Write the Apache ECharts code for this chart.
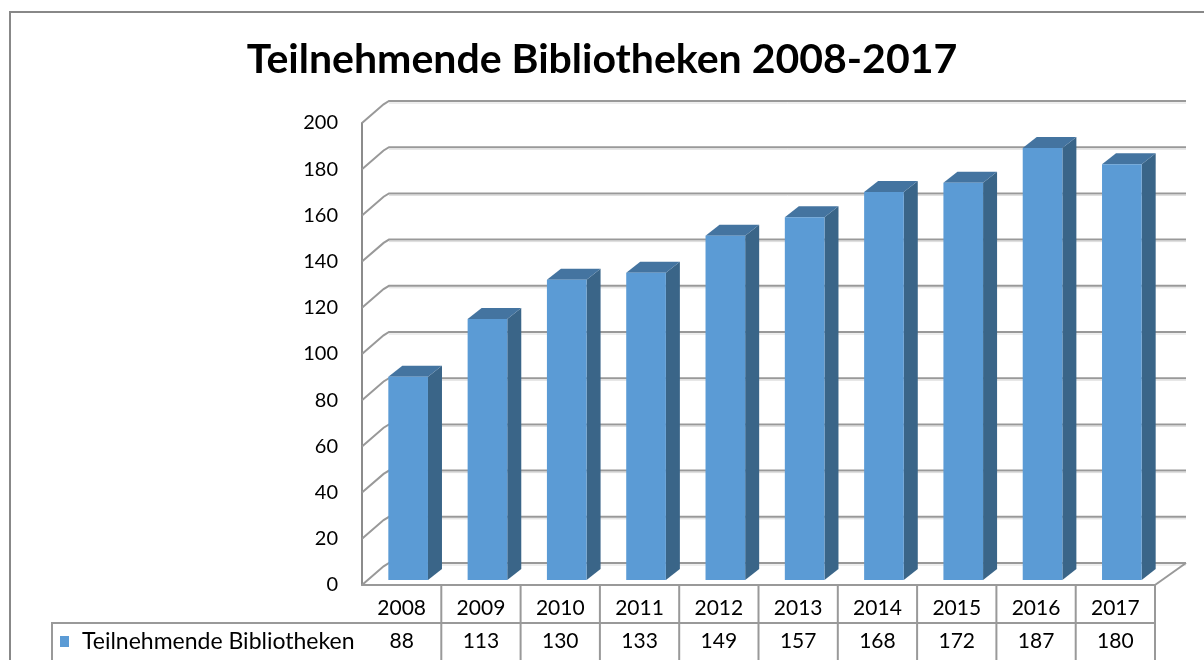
<!DOCTYPE html>
<html>
<head>
<meta charset="utf-8">
<script src="https://cdn.jsdelivr.net/npm/echarts@6/dist/echarts.min.js"></script>
<style>
html,body{margin:0;padding:0;background:#fff;}
#chart{width:1204px;height:660px;}
</style>
</head>
<body>
<div id="chart"></div>
<script>
const titleText = 'Teilnehmende Bibliotheken 2008-2017';
const seriesName = 'Teilnehmende Bibliotheken';
const categories = ['2008','2009','2010','2011','2012','2013','2014','2015','2016','2017'];
const values = [88, 113, 130, 133, 149, 157, 168, 172, 187, 180];
const yTicks = [0, 20, 40, 60, 80, 100, 120, 140, 160, 180, 200];

const FONT = 'Lato, "Noto Sans", sans-serif';
const GRID_COLOR = '#999999';
const FRONT = '#5B9BD5', SIDE = '#3A6588', TOP = '#4474A0';
// 3D offsets
const DEPTH = [27, -22];      // full depth of walls
const BAR_SHIFT = [6.5, -5];  // bar front face offset from front plane
const BAR_DEPTH = [14, -11];  // bar depth

const chart = echarts.init(document.getElementById('chart'), null, {renderer: 'canvas'});

const option = {
  backgroundColor: '#fff',
  animation: false,
  title: {
    text: titleText,
    left: 'center',
    top: 34,
    textStyle: {fontFamily: FONT, fontSize: 41, fontWeight: 'bold', color: '#000'}
  },
  legend: {
    data: [seriesName],
    left: 60,
    top: 630,
    padding: 0,
    icon: 'rect',
    itemWidth: 9,
    itemHeight: 11,
    textStyle: {fontFamily: FONT, fontSize: 23, color: '#000', padding: [0, 0, 0, 8]}
  },
  grid: {left: 362, top: 123, width: 793, height: 462},
  xAxis: [{
    type: 'category',
    data: categories,
    position: 'bottom',
    axisLine: {show: true, lineStyle: {color: GRID_COLOR, width: 2}},
    axisTick: {show: false},
    splitLine: {show: false},
    axisLabel: {fontFamily: FONT, fontSize: 21, color: '#000', margin: 13, interval: 0}
  }, {
    type: 'category',
    data: categories,
    position: 'bottom',
    axisLine: {show: false},
    axisTick: {show: false},
    splitLine: {show: false},
    axisLabel: {
      fontFamily: FONT, fontSize: 21, color: '#000', margin: 46, interval: 0,
      formatter: function (val, idx) { return String(values[idx]); }
    }
  }],
  yAxis: {
    type: 'value',
    min: 0,
    max: 200,
    interval: 20,
    axisLine: {show: true, lineStyle: {color: '#8c8c8c', width: 2}},
    axisTick: {show: false},
    splitLine: {show: false},
    axisLabel: {fontFamily: FONT, fontSize: 20, color: '#000', margin: 24}
  },
  graphic: [{
    type: 'rect',
    shape: {x: 10, y: 12, width: 1300, height: 800},
    style: {fill: null, stroke: '#888', lineWidth: 2},
    silent: true
  }, {
    type: 'polyline',
    shape: {points: [[52, 662], [52, 623], [1156, 623]]},
    style: {fill: null, stroke: GRID_COLOR, lineWidth: 2},
    silent: true
  }],
  series: [{
    type: 'custom',
    name: 'walls',
    xAxisIndex: 0,
    z: 1,
    silent: true,
    data: yTicks.map(t => [0, t]),
    renderItem: function (params, api) {
      const t = api.value(1);
      const band = api.size([1, 0])[0];
      const pL = api.coord([0, t]);
      const pR = api.coord([categories.length - 1, t]);
      const xL = pL[0] - band / 2;
      const xR = pR[0] + band / 2;
      const y = pL[1];
      const backRight = xR + 31;
      const children = [{
        type: 'polyline',
        shape: {points: [[xL, y], [xL + DEPTH[0] * 0.8, y + DEPTH[1] * 0.85], [xL + DEPTH[0], y + DEPTH[1]], [backRight, y + DEPTH[1]]]},
        style: {fill: null, stroke: GRID_COLOR, lineWidth: 2}
      }, {
        type: 'line',
        shape: {x1: xL + DEPTH[0], y1: y + DEPTH[1] + 2, x2: backRight, y2: y + DEPTH[1] + 2},
        style: {stroke: '#dcdcdc', lineWidth: 1}
      }];
      if (t === 0) {
        children.push({
          type: 'line',
          shape: {x1: xR, y1: y, x2: backRight, y2: y + DEPTH[1]},
          style: {stroke: GRID_COLOR, lineWidth: 2}
        });
      }
      return {type: 'group', children: children};
    }
  }, {
    type: 'custom',
    name: seriesName,
    xAxisIndex: 0,
    z: 3,
    itemStyle: {color: FRONT},
    data: values.map((v, i) => [i, v]),
    renderItem: function (params, api) {
      const idx = api.value(0);
      const v = api.value(1);
      const band = api.size([1, 0])[0];
      const base = api.coord([idx, 0]);
      const top = api.coord([idx, v]);
      const w = band * 0.5;
      const x0 = base[0] - w / 2 + BAR_SHIFT[0];
      const x1 = x0 + w;
      const yb = base[1] + BAR_SHIFT[1];
      const yt = top[1] + BAR_SHIFT[1];
      const dx = BAR_DEPTH[0], dy = BAR_DEPTH[1];
      const sep = base[0] + band / 2;
      return {
        type: 'group',
        children: [{
          type: 'polygon',
          shape: {points: [[x1, yt], [x1 + dx, yt + dy], [x1 + dx, yb + dy], [x1, yb]]},
          style: {fill: SIDE}
        }, {
          type: 'polygon',
          shape: {points: [[x0, yt], [x0 + dx, yt + dy], [x1 + dx, yt + dy], [x1, yt]]},
          style: {fill: TOP}
        }, {
          type: 'rect',
          shape: {x: x0, y: yt, width: w, height: yb - yt},
          style: {fill: FRONT}
        }, {
          type: 'line',
          shape: {x1: sep, y1: base[1], x2: sep, y2: 662},
          style: {stroke: GRID_COLOR, lineWidth: 2}
        }]
      };
    }
  }]
};

chart.setOption(option);
</script>
</body>
</html>
